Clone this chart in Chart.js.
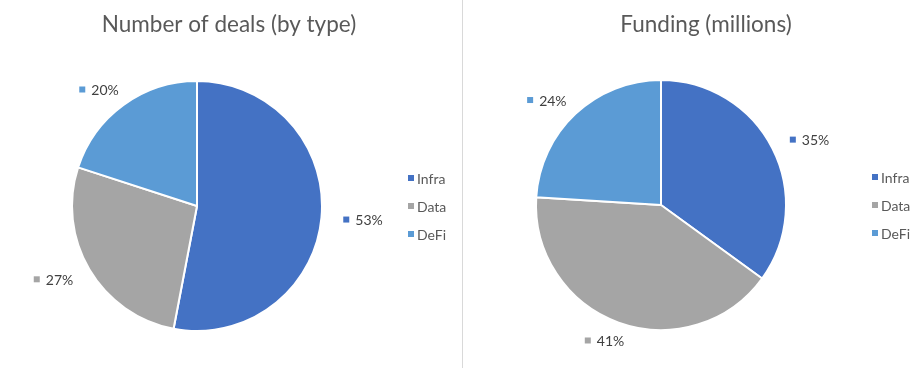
<!DOCTYPE html>
<html>
<head>
<meta charset="utf-8">
<script src="https://cdn.jsdelivr.net/npm/chart.js@4.4.1/dist/chart.umd.min.js"></script>
<style>
  html, body { margin: 0; padding: 0; background: #ffffff; }
  #wrap { position: relative; width: 922px; height: 368px; overflow: hidden; }
  #left { position: absolute; left: 0; top: 0; width: 463px; height: 368px; }
  #right { position: absolute; left: 464px; top: 0; width: 458px; height: 368px; }
  #divider { position: absolute; left: 462px; top: 0; width: 1px; height: 368px; background: #d9d9d9; }
</style>
</head>
<body>
<div id="wrap">
  <div id="left"><canvas id="c1" width="463" height="368"></canvas></div>
  <div id="divider"></div>
  <div id="right"><canvas id="c2" width="458" height="368"></canvas></div>
</div>
<script>
const categories = ['Infra', 'Data', 'DeFi'];
const dealsValues = [53, 27, 20];
const fundingValues = [35, 41, 24];
const titles = ['Number of deals (by type)', 'Funding (millions)'];
const colors = ['#4472C4', '#A5A5A5', '#5B9BD5'];

const FONT = 'Lato, "Open Sans", "Liberation Sans", sans-serif';

const decorPlugin = {
  id: 'decor',
  afterDraw(chart, args, opts) {
    const ctx = chart.ctx;
    const meta = chart.getDatasetMeta(0);
    const data = chart.data.datasets[0].data;
    const total = data.reduce((a, b) => a + b, 0);
    const first = meta.data[0];
    const cx = first.x, cy = first.y, r = first.outerRadius;

    // title
    ctx.save();
    ctx.font = '22.5px ' + FONT;
    ctx.fillStyle = '#595959';
    ctx.textAlign = 'center';
    ctx.textBaseline = 'alphabetic';
    ctx.fillText(opts.title, cx + opts.titleDx, 32);
    ctx.restore();

    // data labels (outside end)
    ctx.save();
    ctx.font = '14px ' + FONT;
    ctx.textBaseline = 'middle';
    meta.data.forEach((arc, i) => {
      const mid = (arc.startAngle + arc.endAngle) / 2;
      const txt = Math.round(data[i] / total * 100) + '%';
      const tw = ctx.measureText(txt).width;
      const box = 6, gap = 6;
      const w = box + gap + tw, h = 14;
      const Rx = r + 22, Ry = r + 12;
      const lx = cx + Math.cos(mid) * Rx + Math.cos(mid) * w / 2;
      const ly = cy + Math.sin(mid) * Ry + Math.sin(mid) * h / 2;
      const x0 = lx - w / 2;
      ctx.fillStyle = chart.data.datasets[0].backgroundColor[i];
      ctx.fillRect(x0, ly - 3, box, box);
      ctx.fillStyle = '#404040';
      ctx.textAlign = 'left';
      ctx.fillText(txt, x0 + box + gap, ly + 1);
    });
    ctx.restore();

    // legend
    ctx.save();
    ctx.font = '14px ' + FONT;
    ctx.textBaseline = 'middle';
    ctx.textAlign = 'left';
    const lx0 = cx + 211;
    chart.data.labels.forEach((lab, i) => {
      const y = cy + (i - 1) * 28;
      ctx.fillStyle = chart.data.datasets[0].backgroundColor[i];
      ctx.fillRect(lx0, y - 3, 6, 6);
      ctx.fillStyle = '#595959';
      ctx.fillText(lab, lx0 + 9, y + 1);
    });
    ctx.restore();
  }
};

function makePie(canvasId, values, title, titleDx, pad) {
  return new Chart(document.getElementById(canvasId), {
    type: 'pie',
    data: {
      labels: categories,
      datasets: [{
        data: values,
        backgroundColor: colors,
        borderColor: '#ffffff',
        borderWidth: 2
      }]
    },
    options: {
      responsive: false,
      animation: false,
      devicePixelRatio: 1,
      layout: { padding: pad },
      plugins: {
        legend: { display: false },
        title: { display: false },
        tooltip: { enabled: false },
        decor: { title: title, titleDx: titleDx }
      }
    },
    plugins: [decorPlugin]
  });
}

makePie('c1', dealsValues, titles[0], 32, { left: 71, right: 140, top: 80, bottom: 36 });
makePie('c2', fundingValues, titles[1], 45, { left: 71, right: 135, top: 79, bottom: 37 });
</script>
</body>
</html>
